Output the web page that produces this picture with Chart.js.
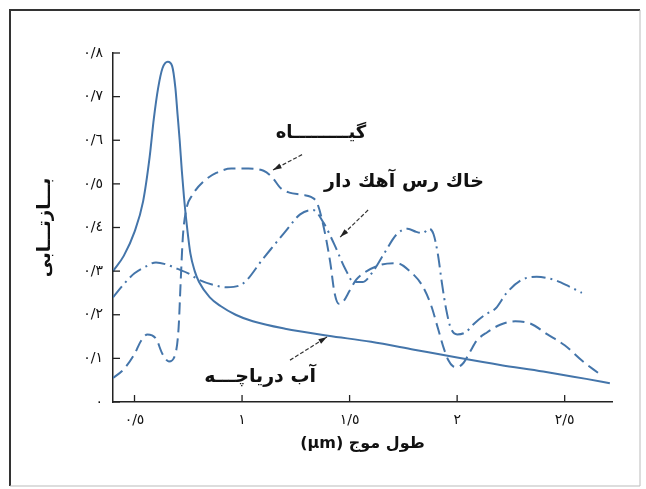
<!DOCTYPE html>
<html>
<head>
<meta charset="utf-8">
<script src="https://cdn.jsdelivr.net/npm/chart.js@4.4.1/dist/chart.umd.min.js"></script>
<style>
  html, body { margin: 0; padding: 0; background: #fff; }
  #chart { position: absolute; left: 0; top: 0; }
</style>
</head>
<body>
<canvas id="chart" width="646" height="489"></canvas>
<script>
// wavelength (micron) and reflectance
const vegX = [0.40, 0.45, 0.50, 0.53, 0.56, 0.60, 0.63, 0.66, 0.69, 0.705, 0.715, 0.725, 0.74, 0.77, 0.82, 0.88, 0.95, 1.03, 1.10, 1.14, 1.18, 1.22, 1.28, 1.32, 1.35, 1.38, 1.41, 1.43, 1.45, 1.47, 1.50, 1.53, 1.58, 1.65, 1.72, 1.78, 1.84, 1.88, 1.91, 1.94, 1.96, 1.98, 2.00, 2.03, 2.06, 2.09, 2.14, 2.20, 2.27, 2.34, 2.42, 2.50, 2.58, 2.66];
const vegY = [0.055, 0.075, 0.11, 0.14, 0.155, 0.145, 0.11, 0.093, 0.11, 0.17, 0.28, 0.38, 0.44, 0.475, 0.505, 0.525, 0.535, 0.535, 0.53, 0.515, 0.49, 0.48, 0.475, 0.47, 0.455, 0.40, 0.32, 0.25, 0.225, 0.23, 0.255, 0.28, 0.30, 0.315, 0.318, 0.30, 0.265, 0.22, 0.17, 0.12, 0.095, 0.082, 0.08, 0.09, 0.115, 0.14, 0.16, 0.177, 0.185, 0.18, 0.155, 0.13, 0.095, 0.065];

const soilX = [0.40, 0.45, 0.50, 0.55, 0.60, 0.65, 0.70, 0.75, 0.80, 0.87, 0.93, 1.00, 1.10, 1.20, 1.27, 1.33, 1.38, 1.43, 1.48, 1.52, 1.56, 1.61, 1.66, 1.72, 1.77, 1.81, 1.84, 1.87, 1.89, 1.91, 1.93, 1.95, 1.97, 2.00, 2.04, 2.08, 2.13, 2.18, 2.23, 2.30, 2.37, 2.45, 2.52, 2.58];
const soilY = [0.24, 0.27, 0.295, 0.31, 0.32, 0.315, 0.305, 0.295, 0.28, 0.268, 0.263, 0.27, 0.33, 0.39, 0.43, 0.44, 0.41, 0.36, 0.305, 0.275, 0.275, 0.30, 0.34, 0.385, 0.397, 0.39, 0.387, 0.397, 0.385, 0.34, 0.27, 0.21, 0.17, 0.155, 0.16, 0.18, 0.20, 0.215, 0.25, 0.28, 0.287, 0.28, 0.265, 0.25];

const waterX = [0.40, 0.45, 0.50, 0.54, 0.57, 0.59, 0.61, 0.63, 0.655, 0.675, 0.69, 0.70, 0.71, 0.72, 0.73, 0.74, 0.76, 0.78, 0.80, 0.85, 0.90, 0.97, 1.05, 1.20, 1.40, 1.60, 1.80, 2.00, 2.20, 2.40, 2.60, 2.71];
const waterY = [0.30, 0.335, 0.39, 0.46, 0.56, 0.65, 0.72, 0.765, 0.78, 0.77, 0.72, 0.66, 0.60, 0.53, 0.47, 0.42, 0.34, 0.30, 0.275, 0.24, 0.22, 0.20, 0.185, 0.168, 0.152, 0.138, 0.12, 0.102, 0.085, 0.07, 0.053, 0.043];

const xTicks = [0.5, 1, 1.5, 2, 2.5];
const yTicks = [0, 0.1, 0.2, 0.3, 0.4, 0.5, 0.6, 0.7, 0.8];

const lineColor = '#4475aa';
const faDigits = '٠١٢٣٤٥٦٧٨٩';

function toFa(v) {
  const s = String(Math.round(v * 10) / 10);
  return s.replace(/\d/g, d => faDigits[d]).replace('.', '/');
}

function pts(xs, ys) {
  return xs.map((x, i) => ({ x: x, y: ys[i] }));
}

// labels with arrows, placed in data units
const notes = [
  { text: 'گیـــــــــاه', size: 18, x: 1.367, y: 0.617, from: [1.279, 0.567], to: [1.144, 0.532] },
  { text: 'خاك رس آهك دار', size: 19, x: 1.753, y: 0.505, from: [1.586, 0.44], to: [1.456, 0.378] },
  { text: 'آب دریاچـــه', size: 19, x: 1.084, y: 0.057, from: [1.223, 0.096], to: [1.395, 0.149] }
];

const decorPlugin = {
  id: 'decor',
  beforeDraw(chart) {
    const ctx = chart.ctx;
    ctx.save();
    ctx.fillStyle = '#fff';
    ctx.fillRect(0, 0, chart.width, chart.height);
    // outer frame of the scan
    ctx.strokeStyle = '#333';
    ctx.lineWidth = 2;
    ctx.beginPath();
    ctx.moveTo(10, 486);
    ctx.lineTo(10, 10);
    ctx.lineTo(640, 10);
    ctx.stroke();
    ctx.strokeStyle = '#bbb';
    ctx.lineWidth = 1;
    ctx.beginPath();
    ctx.moveTo(640, 10);
    ctx.lineTo(640, 486);
    ctx.lineTo(10, 486);
    ctx.stroke();
    ctx.restore();
  },
  afterDraw(chart) {
    const ctx = chart.ctx;
    const xs = chart.scales.x, ys = chart.scales.y;
    const area = chart.chartArea;
    ctx.save();
    // inward tick marks
    ctx.strokeStyle = '#222';
    ctx.lineWidth = 1.3;
    yTicks.forEach(v => {
      const py = ys.getPixelForValue(v);
      ctx.beginPath();
      ctx.moveTo(area.left, py);
      ctx.lineTo(area.left + 7, py);
      ctx.stroke();
    });
    xTicks.forEach(v => {
      const px = xs.getPixelForValue(v);
      ctx.beginPath();
      ctx.moveTo(px, area.bottom);
      ctx.lineTo(px, area.bottom - 7);
      ctx.stroke();
    });
    // labels and arrows
    ctx.textAlign = 'center';
    ctx.textBaseline = 'middle';
    notes.forEach(n => {
      ctx.font = 'bold ' + n.size + 'px "DejaVu Sans"';
      ctx.fillStyle = '#111';
      ctx.fillText(n.text, xs.getPixelForValue(n.x), ys.getPixelForValue(n.y));
      const x0 = xs.getPixelForValue(n.from[0]), y0 = ys.getPixelForValue(n.from[1]);
      const x1 = xs.getPixelForValue(n.to[0]), y1 = ys.getPixelForValue(n.to[1]);
      ctx.strokeStyle = '#333';
      ctx.lineWidth = 1.2;
      ctx.setLineDash([4, 2]);
      ctx.beginPath();
      ctx.moveTo(x0, y0);
      ctx.lineTo(x1, y1);
      ctx.stroke();
      ctx.setLineDash([]);
      const a = Math.atan2(y1 - y0, x1 - x0);
      ctx.fillStyle = '#222';
      ctx.beginPath();
      ctx.moveTo(x1, y1);
      ctx.lineTo(x1 - 9 * Math.cos(a - 0.3), y1 - 9 * Math.sin(a - 0.3));
      ctx.lineTo(x1 - 9 * Math.cos(a + 0.3), y1 - 9 * Math.sin(a + 0.3));
      ctx.closePath();
      ctx.fill();
    });
    ctx.restore();
  }
};

new Chart(document.getElementById('chart'), {
  type: 'line',
  data: {
    datasets: [
      {
        label: 'گیاه',
        data: pts(vegX, vegY),
        borderColor: lineColor,
        borderWidth: 2,
        borderDash: [12, 6],
        pointRadius: 0,
        cubicInterpolationMode: 'monotone',
        fill: false
      },
      {
        label: 'خاک رس آهک دار',
        data: pts(soilX, soilY),
        borderColor: lineColor,
        borderWidth: 2,
        borderDash: [14, 5, 2, 5],
        pointRadius: 0,
        cubicInterpolationMode: 'monotone',
        fill: false
      },
      {
        label: 'آب دریاچه',
        data: pts(waterX, waterY),
        borderColor: lineColor,
        borderWidth: 2,
        pointRadius: 0,
        cubicInterpolationMode: 'monotone',
        fill: false
      }
    ]
  },
  options: {
    responsive: false,
    animation: false,
    devicePixelRatio: 1,
    layout: { padding: { left: 10, top: 53, right: 34, bottom: 20 } },
    plugins: {
      legend: { display: false },
      tooltip: { enabled: false }
    },
    scales: {
      x: {
        type: 'linear',
        min: 0.4,
        max: 2.72,
        afterBuildTicks: (scale) => { scale.ticks = xTicks.map(v => ({ value: v })); },
        afterFit: (scale) => { scale.height = 67; },
        grid: { display: false, drawTicks: false },
        border: { color: '#222', width: 1.5 },
        ticks: {
          padding: 10,
          color: '#111',
          font: { family: 'DejaVu Sans', size: 14 },
          callback: (v) => toFa(v)
        },
        title: {
          display: true,
          text: '(μm) طول موج',
          color: '#111',
          font: { family: 'DejaVu Sans', size: 16, weight: 'bold' },
          padding: { top: 0, bottom: 16 }
        }
      },
      y: {
        min: 0,
        max: 0.8,
        afterBuildTicks: (scale) => { scale.ticks = yTicks.map(v => ({ value: v })); },
        afterFit: (scale) => { scale.width = 103; },
        grid: { display: false, drawTicks: false },
        border: { color: '#222', width: 1.5 },
        ticks: {
          padding: 10,
          color: '#111',
          font: { family: 'DejaVu Sans', size: 14 },
          callback: (v) => toFa(v)
        },
        title: {
          display: true,
          text: 'بـــازتـــابی',
          color: '#111',
          font: { family: 'DejaVu Sans', size: 18, weight: 'bold' },
          padding: { top: 25, bottom: 0 }
        }
      }
    }
  },
  plugins: [decorPlugin]
});
</script>
</body>
</html>
